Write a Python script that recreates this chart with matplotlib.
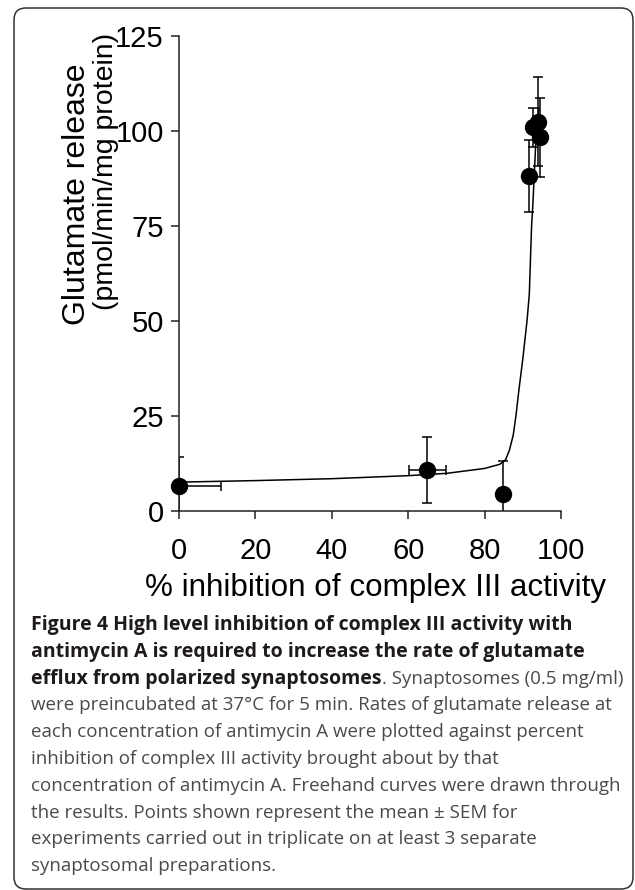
import matplotlib
matplotlib.use('Agg')
import matplotlib.pyplot as plt
from matplotlib.patches import FancyBboxPatch
from matplotlib.transforms import IdentityTransform

# data
inhibition = [0, 65.0, 84.7, 91.5, 92.8, 94.0, 94.4]
release = [6.7, 10.8, 4.6, 88.2, 101.0, 102.5, 98.3]
release_sem = [7.6, 8.7, 8.6, 9.4, 5.1, 11.6, 10.3]
inhibition_sem = [11.0, 4.8]

# freehand curve
curve_x = [0, 20, 40, 60, 70, 80, 84, 85.5, 86.5, 87.5, 88.2, 89, 90, 91.1, 91.7, 92.3, 92.6, 93.4, 94.2]
curve_y = [7.6, 8.0, 8.5, 9.3, 9.9, 11.2, 12.3, 13.5, 16, 20, 25, 32, 40, 50, 57, 75, 80, 97, 106]

x_ticks = [0, 20, 40, 60, 80, 100]
y_ticks = [0, 25, 50, 75, 100, 125]

W, H = 635, 890
fig = plt.figure(figsize=(W / 100, H / 100), dpi=100)

# plot area in pixels
left, right, top, bottom = 179, 561, 36, 511
ax = fig.add_axes([left / W, 1 - bottom / H, (right - left) / W, (bottom - top) / H])

ax.plot(curve_x, curve_y, color='black', lw=1.1)
ax.errorbar(inhibition, release, yerr=release_sem, fmt='none', ecolor='black',
            elinewidth=1.1, capsize=3.3, capthick=1.1)
ax.errorbar(inhibition[:2], release[:2], xerr=inhibition_sem, fmt='none', ecolor='black',
            elinewidth=1.1, capsize=3.3, capthick=1.1)
ax.plot(inhibition, release, 'o', color='black', markersize=11.5, clip_on=False, zorder=5)

ax.set_xlim(0, 100)
ax.set_ylim(0, 125)
ax.set_xticks(x_ticks)
ax.set_yticks(y_ticks)
for s in ['top', 'right']:
    ax.spines[s].set_visible(False)
for s in ['left', 'bottom']:
    ax.spines[s].set_linewidth(1.1)
    ax.spines[s].set_color('#222222')
ax.tick_params(length=6, width=1.1, color='#222222', labelsize=21)
ax.tick_params(axis='x', pad=13)
ax.tick_params(axis='y', pad=5)
for lab in ax.get_xticklabels() + ax.get_yticklabels():
    lab.set_family('Liberation Sans')

# axis titles
fig.text(376 / W, 1 - 588 / H, '% inhibition of complex III activity', fontsize=22.6,
         family='Liberation Sans', ha='center', va='center')
fig.text(77 / W, 1 - 194 / H, 'Glutamate release', rotation=90, fontsize=23,
         family='Liberation Sans', ha='center', va='center')
fig.text(106 / W, 1 - 171 / H, '(pmol/min/mg protein)', rotation=90, fontsize=20.5,
         family='Liberation Sans', ha='center', va='center')

# caption
bold_col = '#1e1a1b'
reg_col = '#4a4a4a'
cap_x = 31 / W
line_y = [630, 657, 684, 710, 737, 764, 791, 818, 844, 871]
bold_lines = ['Figure 4 High level inhibition of complex III activity with',
              'antimycin A is required to increase the rate of glutamate',
              'efflux from polarized synaptosomes']
reg_lines = ['were preincubated at 37\u00b0C for 5 min. Rates of glutamate release at',
             'each concentration of antimycin A were plotted against percent',
             'inhibition of complex III activity brought about by that',
             'concentration of antimycin A. Freehand curves were drawn through',
             'the results. Points shown represent the mean \u00b1 SEM for',
             'experiments carried out in triplicate on at least 3 separate',
             'synaptosomal preparations.']
cap_font = 'Open Sans'

# pick caption sizes so the lines span about the same width as in the figure
renderer = fig.canvas.get_renderer()
total = 0
for t in bold_lines:
    probe = fig.text(0, 0, t, fontsize=10, family=cap_font, fontweight='bold')
    total += probe.get_window_extent(renderer).width
    probe.remove()
bold_size = 10 * (595 + 536 + 312) / total
probe = fig.text(0, 0, reg_lines[0], fontsize=10, family=cap_font)
reg_size = 10 * 582 / probe.get_window_extent(renderer).width
probe.remove()

bold_texts = []
for i, t in enumerate(bold_lines):
    bold_texts.append(fig.text(cap_x, 1 - line_y[i] / H, t, fontsize=bold_size, family=cap_font,
                               fontweight='bold', color=bold_col, va='baseline'))
bb = bold_texts[2].get_window_extent(renderer)
fig.text(bb.x1 / W, 1 - line_y[2] / H, '. Synaptosomes (0.5 mg/ml)', fontsize=reg_size,
         family=cap_font, color=reg_col, va='baseline')
for i, t in enumerate(reg_lines):
    fig.text(cap_x, 1 - line_y[i + 3] / H, t, fontsize=reg_size, family=cap_font,
             color=reg_col, va='baseline')

# rounded frame around figure
frame = FancyBboxPatch((14, H - 889), 619, 881, boxstyle='round,pad=0,rounding_size=12',
                       transform=IdentityTransform(), fill=False, edgecolor='#333333', lw=1.1)
fig.patches.append(frame)

fig.savefig('out.png', dpi=100)
